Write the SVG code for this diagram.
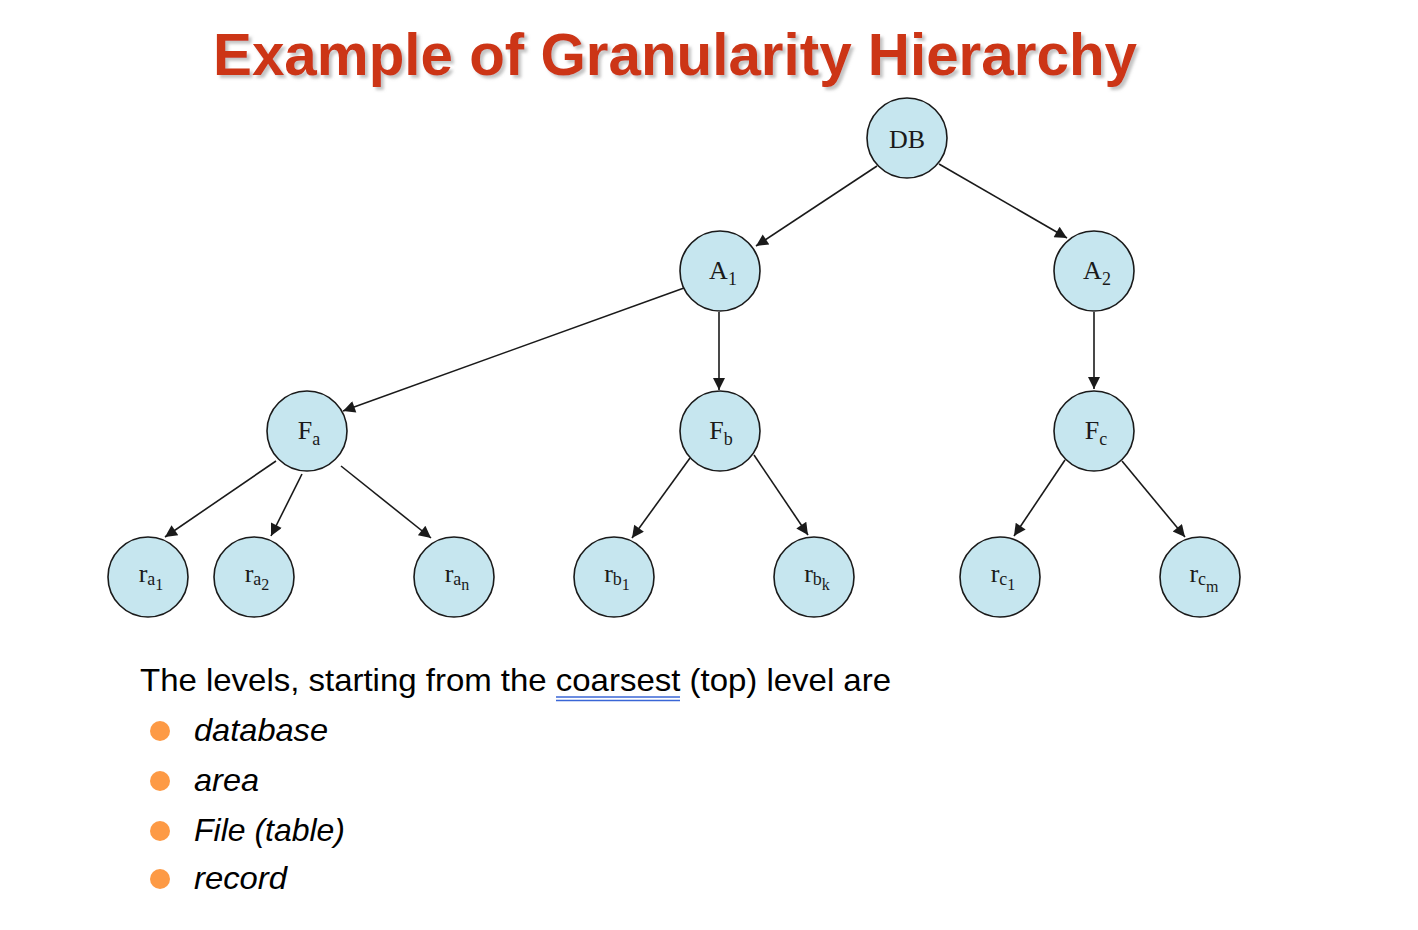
<svg xmlns="http://www.w3.org/2000/svg" width="1418" height="930" viewBox="0 0 1418 930">
<defs>
<style>
.node circle{fill:#c6e6ef;stroke:#1a1a1a;stroke-width:1.6}
.node text{font-family:"Liberation Serif","DejaVu Serif",serif;font-size:26px;fill:#1a1a1a;text-anchor:middle}
.sub{font-size:18px}
.sub2{font-size:16px}
#connectors line{stroke:#1a1a1a;stroke-width:1.6;marker-end:url(#arr)}
.body{font-family:"Liberation Sans",Arial,sans-serif;font-size:32px;fill:#000}
.it{font-style:italic}
.bullet{fill:#fd9a45}
</style>
<filter id="shadow" x="-5%" y="-20%" width="110%" height="150%">
<feDropShadow dx="3" dy="3" stdDeviation="1.5" flood-color="#888888" flood-opacity="0.5"/>
</filter>
<marker id="arr" viewBox="0 0 10 10" refX="10" refY="5" markerWidth="15" markerHeight="12" markerUnits="userSpaceOnUse" orient="auto">
<path d="M0,0 L10,5 L0,10 z" fill="#1a1a1a"/>
</marker>
</defs>
<rect width="1418" height="930" fill="#ffffff"/>
<g id="title">
<text x="213" y="75" font-family="Liberation Sans,Arial,sans-serif" font-weight="bold" font-size="60" fill="#cc3517" filter="url(#shadow)" textLength="924" lengthAdjust="spacingAndGlyphs">Example of Granularity Hierarchy</text>
</g>
<g id="connectors">
<line x1="877" y1="166" x2="756" y2="246"/>
<line x1="939" y1="164" x2="1067" y2="238"/>
<line x1="684" y1="288" x2="343" y2="411"/>
<line x1="719" y1="312" x2="719" y2="390"/>
<line x1="1094" y1="312" x2="1094" y2="389"/>
<line x1="276" y1="461" x2="165" y2="537"/>
<line x1="302" y1="474" x2="271" y2="536"/>
<line x1="341" y1="466" x2="431" y2="538"/>
<line x1="690" y1="458" x2="632" y2="538"/>
<line x1="754" y1="455" x2="808" y2="535"/>
<line x1="1065" y1="460" x2="1014" y2="536"/>
<line x1="1122" y1="461" x2="1185" y2="537"/>
</g>
<g id="node-DB" class="node"><circle cx="907" cy="138" r="40"/><text x="907" y="148">DB</text></g>
<g id="node-A1" class="node"><circle cx="720" cy="271" r="40"/><text x="723" y="279">A<tspan class="sub" dy="6">1</tspan></text></g>
<g id="node-A2" class="node"><circle cx="1094" cy="271" r="40"/><text x="1097" y="279">A<tspan class="sub" dy="6">2</tspan></text></g>
<g id="node-Fa" class="node"><circle cx="307" cy="431" r="40"/><text x="309" y="439">F<tspan class="sub" dy="6">a</tspan></text></g>
<g id="node-Fb" class="node"><circle cx="720" cy="431" r="40"/><text x="721" y="439">F<tspan class="sub" dy="6">b</tspan></text></g>
<g id="node-Fc" class="node"><circle cx="1094" cy="431" r="40"/><text x="1096" y="439">F<tspan class="sub" dy="6">c</tspan></text></g>
<g id="node-ra1" class="node"><circle cx="148" cy="577" r="40"/><text x="151" y="582">r<tspan class="sub" dy="3">a</tspan><tspan class="sub2" dy="5">1</tspan></text></g>
<g id="node-ra2" class="node"><circle cx="254" cy="577" r="40"/><text x="257" y="582">r<tspan class="sub" dy="3">a</tspan><tspan class="sub2" dy="5">2</tspan></text></g>
<g id="node-ran" class="node"><circle cx="454" cy="577" r="40"/><text x="457" y="582">r<tspan class="sub" dy="3">a</tspan><tspan class="sub2" dy="5">n</tspan></text></g>
<g id="node-rb1" class="node"><circle cx="614" cy="577" r="40"/><text x="617" y="582">r<tspan class="sub" dy="3">b</tspan><tspan class="sub2" dy="5">1</tspan></text></g>
<g id="node-rbk" class="node"><circle cx="814" cy="577" r="40"/><text x="817" y="582">r<tspan class="sub" dy="3">b</tspan><tspan class="sub2" dy="5">k</tspan></text></g>
<g id="node-rc1" class="node"><circle cx="1000" cy="577" r="40"/><text x="1003" y="582">r<tspan class="sub" dy="3">c</tspan><tspan class="sub2" dy="5">1</tspan></text></g>
<g id="node-rcm" class="node"><circle cx="1200" cy="577" r="40"/><text x="1204" y="582">r<tspan class="sub" dy="3">c</tspan><tspan class="sub2" dy="7">m</tspan></text></g>
<g id="text-block">
<text class="body" x="140" y="691" textLength="751" lengthAdjust="spacingAndGlyphs">The levels, starting from the coarsest (top) level are</text>
<line x1="556" y1="697" x2="680" y2="697" stroke="#3a66d6" stroke-width="1.5"/>
<line x1="556" y1="700.5" x2="680" y2="700.5" stroke="#3a66d6" stroke-width="1.5"/>
<circle class="bullet" cx="160" cy="731" r="10"/>
<circle class="bullet" cx="160" cy="781" r="10"/>
<circle class="bullet" cx="160" cy="831" r="10"/>
<circle class="bullet" cx="160" cy="879" r="10"/>
<text class="body it" x="194" y="741" textLength="134" lengthAdjust="spacingAndGlyphs">database</text>
<text class="body it" x="194" y="791" textLength="65" lengthAdjust="spacingAndGlyphs">area</text>
<text class="body it" x="194" y="841" textLength="151" lengthAdjust="spacingAndGlyphs">File (table)</text>
<text class="body it" x="194" y="889" textLength="93" lengthAdjust="spacingAndGlyphs">record</text>
</g>
</svg>
